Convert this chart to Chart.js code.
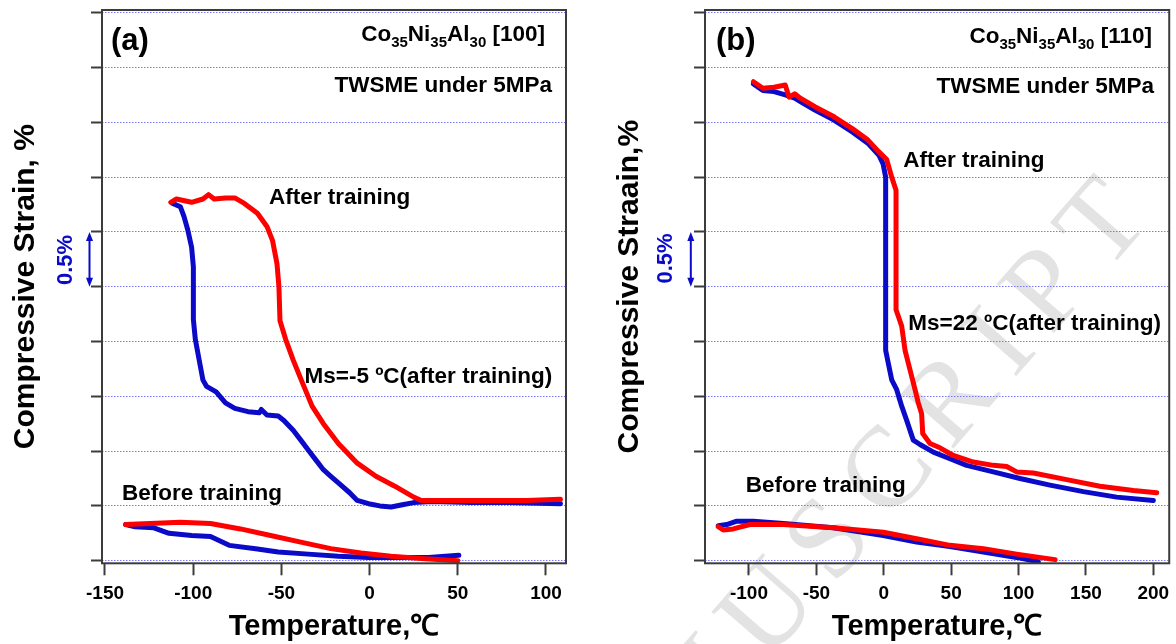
<!DOCTYPE html>
<html>
<head>
<meta charset="utf-8">
<script src="https://cdn.jsdelivr.net/npm/chart.js@4.4.1/dist/chart.umd.min.js"></script>
<style>
  html, body { margin: 0; padding: 0; background: #fff; }
  #wrap { position: relative; width: 1176px; height: 644px; overflow: hidden; }
  canvas { position: absolute; top: 0; }
  #chartA { left: 0; }
  #chartB { left: 590px; }
</style>
</head>
<body>
<div id="wrap">
  <canvas id="chartA" width="590" height="644"></canvas>
  <canvas id="chartB" width="586" height="644"></canvas>
</div>
<script>
/* ---- data (temperature in C, compressive strain in %) ---- */

// (a) [100]  after training
var aHeatAfterT = [-112.7,-109.5,-100.9,-94.5,-91.3,-88.1,-81.7,-76.4,-71.0,-63.6,-58.2,-55.0,-52.5,-51.4,-50.8,-47.6,-43.3,-38.0,-32.6,-26.2,-17.7,-7.0,3.6,14.3,25.0,29.3,46.3,67.7,89.0,108.2];
var aHeatAfterS = [3.27,3.30,3.27,3.30,3.34,3.30,3.31,3.31,3.26,3.17,3.05,2.92,2.71,2.50,2.19,2.02,1.83,1.62,1.41,1.25,1.07,0.89,0.77,0.68,0.58,0.55,0.55,0.55,0.55,0.56];
var aCoolAfterT = [-111.6,-107.3,-105.2,-103.1,-100.9,-99.9,-99.9,-98.8,-96.6,-94.5,-92.4,-87.0,-81.7,-76.4,-68.9,-62.5,-61.4,-58.2,-51.8,-48.6,-43.3,-39.0,-34.8,-30.5,-26.2,-22.0,-17.7,-11.3,-7.0,-0.6,5.8,12.2,18.6,25.0,35.7,57.0,78.3,108.2];
var aCoolAfterS = [3.26,3.23,3.14,3.02,2.86,2.68,2.20,2.02,1.83,1.65,1.59,1.54,1.44,1.39,1.36,1.35,1.38,1.33,1.32,1.28,1.19,1.10,1.01,0.92,0.83,0.77,0.71,0.62,0.55,0.52,0.50,0.49,0.51,0.53,0.54,0.53,0.53,0.52];
// (a) before training
var aHeatBeforeT = [-138.3,-124.4,-107.3,-90.2,-73.2,-56.1,-39.0,-22.0,-4.9,12.2,29.3,50.0];
var aHeatBeforeS = [0.33,0.34,0.35,0.34,0.29,0.23,0.17,0.11,0.07,0.04,0.02,0.00];
var aCoolBeforeT = [-138.3,-132.9,-122.3,-113.7,-100.9,-90.2,-79.6,-64.6,-51.8,-34.8,-17.7,-0.6,16.4,33.5,50.6];
var aCoolBeforeS = [0.33,0.31,0.30,0.25,0.23,0.22,0.14,0.11,0.08,0.06,0.04,0.03,0.03,0.03,0.05];

// (b) [110]  after training
var bHeatAfterT = [-96.7,-89.7,-81.4,-73.1,-70.3,-66.1,-61.9,-50.8,-36.9,-23.1,-11.9,-3.6,2.2,5.9,9.1,9.1,10.8,13.3,15.8,19.5,23.2,25.6,28.1,28.9,34.3,41.7,51.6,66.4,81.3,91.2,98.6,111.0,135.7,160.4,185.2,202.5];
var bHeatAfterS = [4.37,4.31,4.32,4.34,4.23,4.26,4.22,4.14,4.05,3.94,3.84,3.73,3.66,3.50,3.38,2.29,2.23,2.14,1.92,1.74,1.56,1.44,1.34,1.16,1.07,1.03,0.96,0.90,0.87,0.86,0.81,0.80,0.74,0.68,0.64,0.62];
var bCoolAfterT = [-96.7,-89.7,-81.4,-73.1,-66.1,-61.9,-50.8,-36.9,-23.1,-11.9,-3.6,-0.5,1.4,1.4,3.4,5.9,9.6,13.3,17.0,21.9,26.9,36.8,49.1,61.5,81.3,101.1,123.3,148.1,172.8,200.0];
var bCoolAfterS = [4.35,4.29,4.28,4.25,4.22,4.19,4.11,4.02,3.91,3.81,3.70,3.62,3.50,1.92,1.80,1.65,1.56,1.41,1.28,1.10,1.06,0.99,0.93,0.87,0.81,0.75,0.69,0.63,0.58,0.55];
// (b) before training
var bHeatBeforeT = [-122.8,-119.1,-111.7,-99.3,-74.5,-37.4,-0.3,24.4,49.1,73.9,98.6,127.1];
var bHeatBeforeS = [0.31,0.28,0.29,0.33,0.33,0.30,0.26,0.20,0.14,0.11,0.06,0.01];
var bCoolBeforeT = [-122.8,-116.5,-109.1,-96.8,-74.5,-37.4,-0.3,24.4,49.1,73.9,98.6,114.7];
var bCoolBeforeS = [0.32,0.33,0.36,0.36,0.34,0.30,0.23,0.17,0.13,0.08,0.03,-0.01];

// tick values
var xTicksA = [-150, -100, -50, 0, 50, 100];
var xTicksB = [-100, -50, 0, 50, 100, 150, 200];
var yGrid = [0, 0.5, 1, 1.5, 2, 2.5, 3, 3.5, 4, 4.5, 5];
var scaleBar = [2.5, 3.0];   // the "0.5%" arrow spans one grid step

/* ---- look ---- */
var FONT = '"Liberation Sans", Arial, Helvetica, sans-serif';
var RED = '#ff0000', BLUE = '#0a0ac8', AXIS = '#3c3c3c', GRID = '#7878ff';
var Y_MIN = -0.0237, Y_MAX = 5.0246;

function pts(t, s) {
  return t.map(function (v, i) { return { x: v, y: s[i] }; });
}
function series(t, s, color) {
  return { data: pts(t, s), showLine: true, borderColor: color, backgroundColor: color,
           borderWidth: 5, pointRadius: 0, tension: 0,
           borderJoinStyle: 'round', borderCapStyle: 'round' };
}

function drawFormula(ctx, parts, xRight, y) {
  var big = 'bold 22.5px ' + FONT, small = 'bold 15px ' + FONT, w = 0;
  parts.forEach(function (p) { ctx.font = p[1] ? small : big; w += ctx.measureText(p[0]).width; });
  var x = xRight - w;
  parts.forEach(function (p) {
    ctx.font = p[1] ? small : big;
    ctx.fillText(p[0], x, y + (p[1] ? 6 : 0));
    x += ctx.measureText(p[0]).width;
  });
}

function drawWatermark(ctx, cx, cy) {
  var word = 'MANUSCRIPT', gap = 19, size = 115;
  ctx.save();
  ctx.font = size + 'px "Liberation Serif", "DejaVu Serif", serif';
  ctx.fillStyle = '#e3e3e3';
  var w = word.split('').map(function (c) { return ctx.measureText(c).width; });
  var last = word.length - 1, xT = 0;
  for (var i = 0; i < last; i++) xT += w[i] + gap;
  ctx.translate(cx, cy);
  ctx.rotate(-49 * Math.PI / 180);
  var x = -(xT + w[last] / 2);
  for (i = 0; i < word.length; i++) { ctx.fillText(word[i], x, 0.33 * size); x += w[i] + gap; }
  ctx.restore();
}

function decorPlugin(p) {
  return {
    id: 'decor',
    beforeDraw: function (chart) {
      var ctx = chart.ctx;
      ctx.save();
      ctx.fillStyle = '#fff';
      ctx.fillRect(0, 0, chart.width, chart.height);
      ctx.restore();
      if (p.watermark) drawWatermark(ctx, p.watermark[0], p.watermark[1]);
    },
    afterDraw: function (chart) {
      var ctx = chart.ctx, a = chart.chartArea, ys = chart.scales.y;
      ctx.save();
      // frame round the plot
      ctx.strokeStyle = AXIS;
      ctx.lineWidth = 2;
      ctx.strokeRect(a.left, a.top, a.right - a.left, a.bottom - a.top);

      // notes
      ctx.fillStyle = '#000';
      ctx.textBaseline = 'alphabetic';
      p.notes.forEach(function (n) {
        if (n.parts) { drawFormula(ctx, n.parts, a.left + n.dxRight, a.top + n.dy); return; }
        ctx.font = 'bold ' + (n.size || 22.5) + 'px ' + FONT;
        if (n.dxRight !== undefined) {
          ctx.textAlign = 'right';
          ctx.fillText(n.text, a.left + n.dxRight, a.top + n.dy);
        } else {
          ctx.textAlign = 'left';
          ctx.fillText(n.text, a.left + n.dx, a.top + n.dy);
        }
      });

      // 0.5% scale bar
      var x = a.left + p.bar.dx, y1 = ys.getPixelForValue(scaleBar[1]), y2 = ys.getPixelForValue(scaleBar[0]);
      ctx.strokeStyle = BLUE; ctx.fillStyle = BLUE; ctx.lineWidth = 2;
      ctx.beginPath(); ctx.moveTo(x, y1 + 6); ctx.lineTo(x, y2 - 6); ctx.stroke();
      ctx.beginPath(); ctx.moveTo(x, y1); ctx.lineTo(x - 3.5, y1 + 9); ctx.lineTo(x + 3.5, y1 + 9); ctx.closePath(); ctx.fill();
      ctx.beginPath(); ctx.moveTo(x, y2); ctx.lineTo(x - 3.5, y2 - 9); ctx.lineTo(x + 3.5, y2 - 9); ctx.closePath(); ctx.fill();
      ctx.translate(a.left + p.bar.labelDx, a.top + p.bar.labelDy);
      ctx.rotate(-Math.PI / 2);
      ctx.font = 'bold 22px ' + FONT;
      ctx.textAlign = 'center'; ctx.textBaseline = 'middle';
      ctx.fillText('0.5%', 0, 0);
      ctx.restore();
    }
  };
}

function buildChart(id, p) {
  var ctx = document.getElementById(id).getContext('2d');
  return new Chart(ctx, {
    type: 'scatter',
    data: {
      datasets: [
        series(p.heatAfter[0], p.heatAfter[1], RED),
        series(p.heatBefore[0], p.heatBefore[1], RED),
        series(p.coolAfter[0], p.coolAfter[1], BLUE),
        series(p.coolBefore[0], p.coolBefore[1], BLUE)
      ]
    },
    options: {
      responsive: false,
      animation: false,
      layout: { padding: { left: 0, top: 10, right: p.padRight, bottom: 0 } },
      plugins: { legend: { display: false }, tooltip: { enabled: false } },
      scales: {
        x: {
          type: 'linear', min: p.xMin, max: p.xMax,
          afterBuildTicks: function (s) { s.ticks = p.xTicks.map(function (v) { return { value: v }; }); },
          afterFit: function (s) { s.height = 80.7; },
          ticks: { color: '#000', padding: 6.6, maxRotation: 0, autoSkip: false,
                   font: { family: FONT, size: 19, weight: 'bold', lineHeight: 1.2 } },
          grid: { display: true, drawOnChartArea: false, drawTicks: true, tickLength: 12,
                  tickColor: AXIS, tickWidth: 2 },
          border: { display: false },
          title: { display: true, text: 'Temperature,℃', color: '#000',
                   font: { family: FONT, size: 29, weight: 'bold', lineHeight: 1 },
                   padding: { top: 0, bottom: 2.5 } }
        },
        y: {
          type: 'linear', min: Y_MIN, max: Y_MAX,
          afterBuildTicks: function (s) { s.ticks = yGrid.map(function (v) { return { value: v }; }); },
          afterFit: function (s) { s.width = p.yWidth; },
          ticks: { display: false },
          grid: { color: GRID, lineWidth: 1, borderDash: [1.5, 1.5], drawTicks: true, tickLength: 11,
                  tickColor: AXIS, tickWidth: 2, tickBorderDash: [] },
          border: { display: false, dash: [1.5, 1.5] },
          title: { display: true, text: p.yTitle, color: '#000',
                   font: { family: FONT, size: 30, weight: 'bold', lineHeight: 1 },
                   padding: { top: p.yTitlePad, bottom: 0 } }
        }
      }
    },
    plugins: [decorPlugin(p)]
  });
}

buildChart('chartA', {
  heatAfter: [aHeatAfterT, aHeatAfterS], coolAfter: [aCoolAfterT, aCoolAfterS],
  heatBefore: [aHeatBeforeT, aHeatBeforeS], coolBefore: [aCoolBeforeT, aCoolBeforeS],
  xTicks: xTicksA, xMin: -151.70, xMax: 111.34,
  padRight: 24, yWidth: 102, yTitlePad: 11,
  yTitle: 'Compressive Strain, %',
  bar: { dx: -12.5, labelDx: -36, labelDy: 250 },
  notes: [
    { text: '(a)', dx: 9, dy: 39.5, size: 31 },
    { parts: [['Co', 0], ['35', 1], ['Ni', 0], ['35', 1], ['Al', 0], ['30', 1], [' [100]', 0]], dxRight: 443, dy: 30.7 },
    { text: 'TWSME under 5MPa', dxRight: 450, dy: 81.7 },
    { text: 'After training', dx: 167, dy: 194 },
    { text: 'Ms=-5 ºC(after training)', dx: 202.5, dy: 372.7 },
    { text: 'Before training', dx: 20, dy: 490 }
  ]
});

buildChart('chartB', {
  heatAfter: [bHeatAfterT, bHeatAfterS], coolAfter: [bCoolAfterT, bCoolAfterS],
  heatBefore: [bHeatBeforeT, bHeatBeforeS], coolBefore: [bCoolBeforeT, bCoolBeforeS],
  xTicks: xTicksB, xMin: -132.64, xMax: 211.8,
  padRight: 6.7, yWidth: 115, yTitlePad: 25,
  yTitle: 'Compressive Straain,%',
  bar: { dx: -14.2, labelDx: -39, labelDy: 248.5 },
  watermark: [510, 222],
  notes: [
    { text: '(b)', dx: 11, dy: 40, size: 31 },
    { parts: [['Co', 0], ['35', 1], ['Ni', 0], ['35', 1], ['Al', 0], ['30', 1], [' [110]', 0]], dxRight: 447, dy: 32.7 },
    { text: 'TWSME under 5MPa', dxRight: 449, dy: 82.7 },
    { text: 'After training', dx: 198.3, dy: 156.7 },
    { text: 'Ms=22 ºC(after training)', dx: 203.3, dy: 320 },
    { text: 'Before training', dx: 40.7, dy: 481.7 }
  ]
});
</script>
</body>
</html>
